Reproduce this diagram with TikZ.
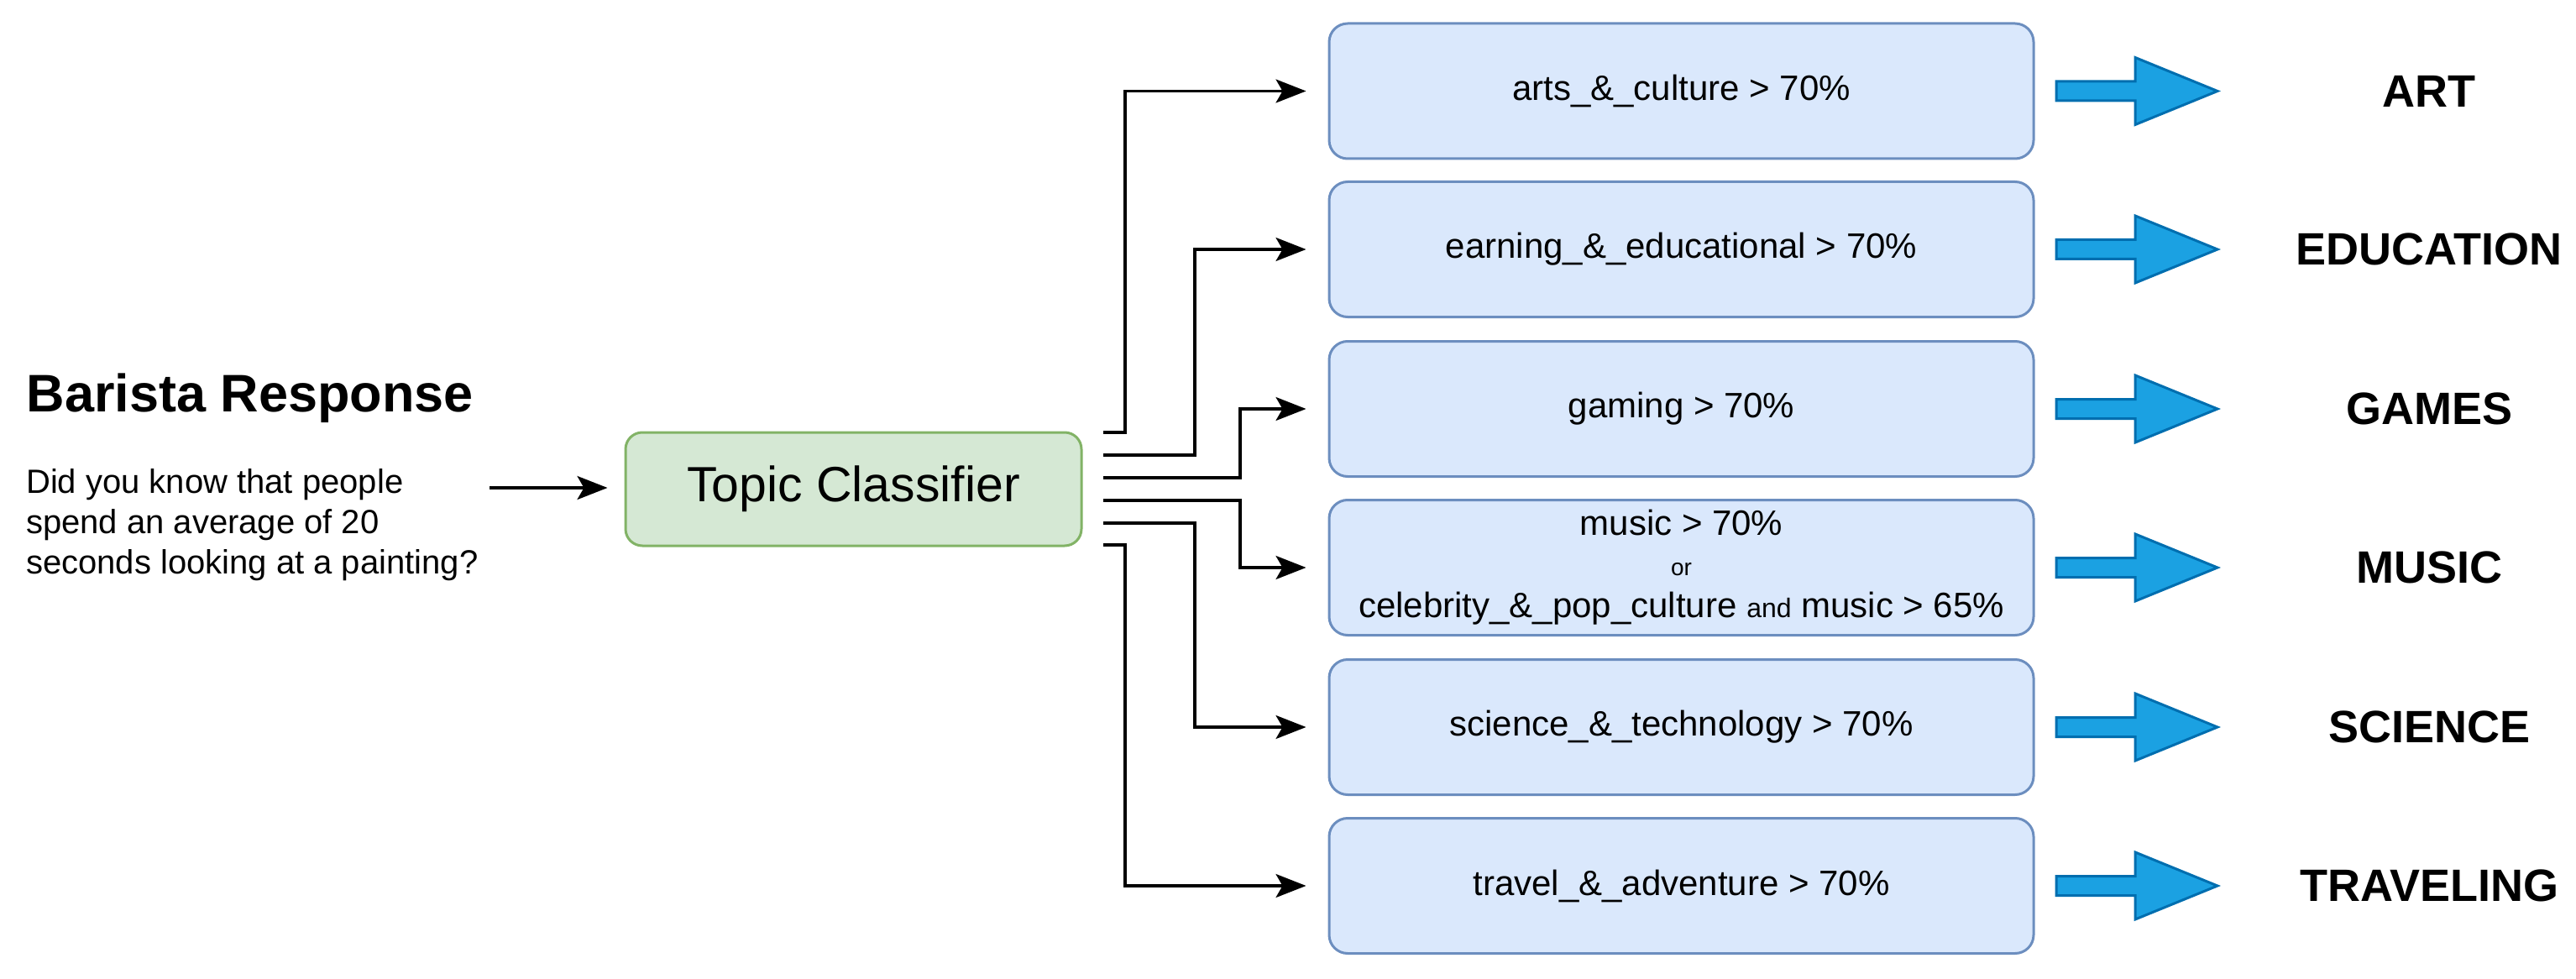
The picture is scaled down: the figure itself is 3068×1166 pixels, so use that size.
\documentclass[tikz,border=0pt]{standalone}
\usepackage{fontspec}
\setmainfont{Liberation Sans}
\usetikzlibrary{arrows.meta}
\definecolor{bfill}{HTML}{DAE8FC}\definecolor{bdraw}{HTML}{6C8EBF}
\definecolor{gfill}{HTML}{D5E8D4}\definecolor{gdraw}{HTML}{82B366}
\definecolor{afill}{HTML}{1BA1E2}\definecolor{adraw}{HTML}{006EAF}
\begin{document}
\begin{tikzpicture}[x=1pt,y=-1pt,
  cond/.style={draw=bdraw,fill=bfill,line width=3pt,rounded corners=22pt,minimum width=839pt,minimum height=161pt,align=center,font=\fontsize{42}{50}\selectfont,inner sep=0pt},
  lab/.style={font=\fontsize{54}{60}\selectfont\bfseries},
  conn/.style={line width=3.2pt,-{Stealth[length=36pt,width=28pt,inset=8pt]}},
  blk/.style={draw=adraw,fill=afill,line width=3pt,line join=miter}]
\useasboundingbox (0,0) rectangle (3068,1166);
\node[anchor=west,font=\fontsize{63}{70}\selectfont\bfseries] (title) at (28,474) {Barista Response};
\node[anchor=north west,align=left,font=\fontsize{40}{48}\selectfont,inner sep=0pt] (body) at (31,558) {Did you know that people\\spend an average of 20\\seconds looking at a painting?};
\node[draw=gdraw,fill=gfill,line width=3pt,rounded corners=20pt,minimum width=543pt,minimum height=135pt,font=\fontsize{59}{65}\selectfont,inner sep=0pt] (tc) at (1016.5,582.5) {Topic Classifier};
\coordinate (in) at (583,581);
\draw[conn] (in) -- ([xshift=-20pt]tc.west |- in);
\foreach \i/\y/\t/\lb in {1/108.5/{arts\_\&\_culture > 70\%}/ART,
  2/297/{earning\_\&\_educational > 70\%}/EDUCATION,
  3/487/{gaming > 70\%}/GAMES,
  4/676/{music > 70\%\\[-2pt]{\fontsize{28}{30}\selectfont or}\\[0pt]celebrity\_\&\_pop\_culture {\fontsize{32}{34}\selectfont and} music > 65\%}/MUSIC,
  5/866/{science\_\&\_technology > 70\%}/SCIENCE,
  6/1055/{travel\_\&\_adventure > 70\%}/TRAVELING}{
  \node[cond] (b\i) at (2002.5,\y) {\t};
  \draw[blk,shift={(2545,\y)}] (-96,-11.5) -- (-2,-11.5) -- (-2,-40) -- (96,0) -- (-2,40) -- (-2,11.5) -- (-96,11.5) -- cycle;
  \node[lab] (l\i) at (2893,\y) {\lb};
}
\foreach \i/\y/\vx in {1/515/1340,2/542/1423,3/569/1477,4/596/1477,5/623/1423,6/649/1340}{
  \coordinate (s\i) at (1314,\y);
  \coordinate (t\i) at ([xshift=-26pt]b\i.west);
  \draw[conn] (s\i) -- (\vx,\y) |- (t\i);
}
\end{tikzpicture}
\end{document}
